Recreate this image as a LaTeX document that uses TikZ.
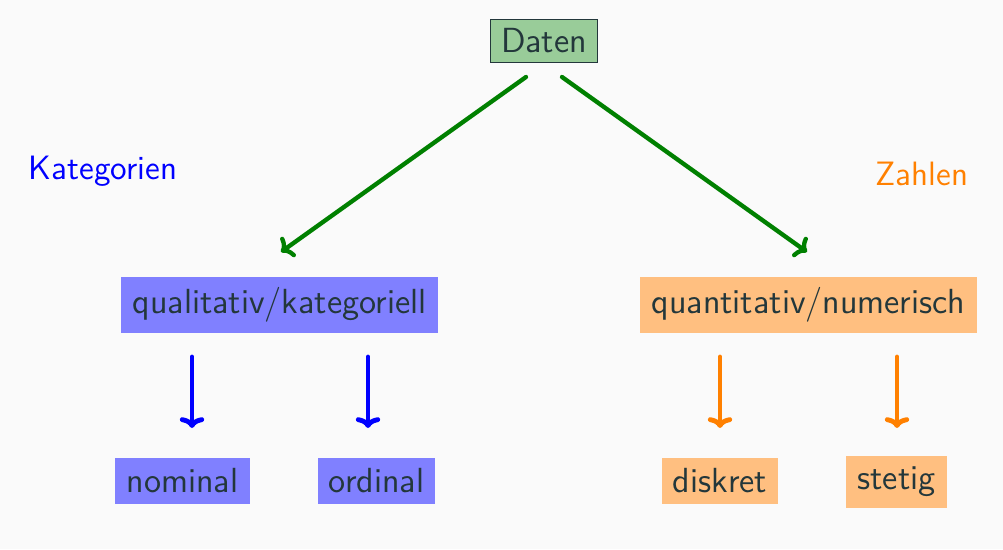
\documentclass[tikz,border=0pt]{standalone}
\usetikzlibrary{arrows.meta}
\definecolor{bgc}{HTML}{FAFAFA}
\definecolor{fgc}{HTML}{23373B}
\definecolor{boxgreen}{RGB}{153,204,153}
\begin{document}
\begin{tikzpicture}[x=0.37pt,y=-0.37pt,
  font=\sffamily\fontsize{12.5}{15}\selectfont,
  every node/.style={text=fgc},
  boxfont/.style={font=\sffamily\fontsize{12.9}{15}\selectfont},
  catbox/.style={boxfont, fill=blue!50, inner xsep=4.2pt, inner ysep=4pt},
  numbox/.style={boxfont, fill=orange!50, inner xsep=4.2pt, inner ysep=4pt},
  rootbox/.style={boxfont, fill=boxgreen, draw=fgc, line width=0.4pt, inner xsep=4pt, inner ysep=3.3pt},
  tip/.style={-{To[length=4pt,width=9pt,round]}, line cap=round},
  grarrow/.style={draw=green!50!black, line width=1.6pt, tip},
  blarrow/.style={draw=blue, line width=1.8pt, tip},
  orarrow/.style={draw=orange, line width=1.8pt, tip}]
\fill[bgc] (0,0) rectangle (1003,549);
\useasboundingbox (0,0) rectangle (1003,549);

\node[rootbox] (daten) at (544,41) {Daten};
\node[catbox] (qual) at (279.5,305) {qualitativ/kategoriell};
\node[numbox] (quan) at (808.5,305) {quantitativ/numerisch};
\node[catbox] (nom) at (182.5,481) {nominal};
\node[catbox] (ord) at (376.5,481) {ordinal};
\node[numbox] (dis) at (720,481) {diskret};
\node[numbox] (ste) at (896.5,482) {stetig};

\node[text=blue] (kat) at (103,171) {Kategorien};
\node[text=orange] (zah) at (922,174) {Zahlen};

\coordinate (g1s) at (526,77); \coordinate (g1e) at (281,252);
\coordinate (g2s) at (562,77); \coordinate (g2e) at (807,252);
\draw[grarrow] (g1s) -- (g1e);
\draw[grarrow] (g2s) -- (g2e);

\coordinate (b1s) at (192,357); \coordinate (b1e) at (192,428);
\coordinate (b2s) at (368,357); \coordinate (b2e) at (368,428);
\draw[blarrow] (b1s) -- (b1e);
\draw[blarrow] (b2s) -- (b2e);

\coordinate (o1s) at (720,357); \coordinate (o1e) at (720,428);
\coordinate (o2s) at (897,357); \coordinate (o2e) at (897,428);
\draw[orarrow] (o1s) -- (o1e);
\draw[orarrow] (o2s) -- (o2e);
\end{tikzpicture}
\end{document}
